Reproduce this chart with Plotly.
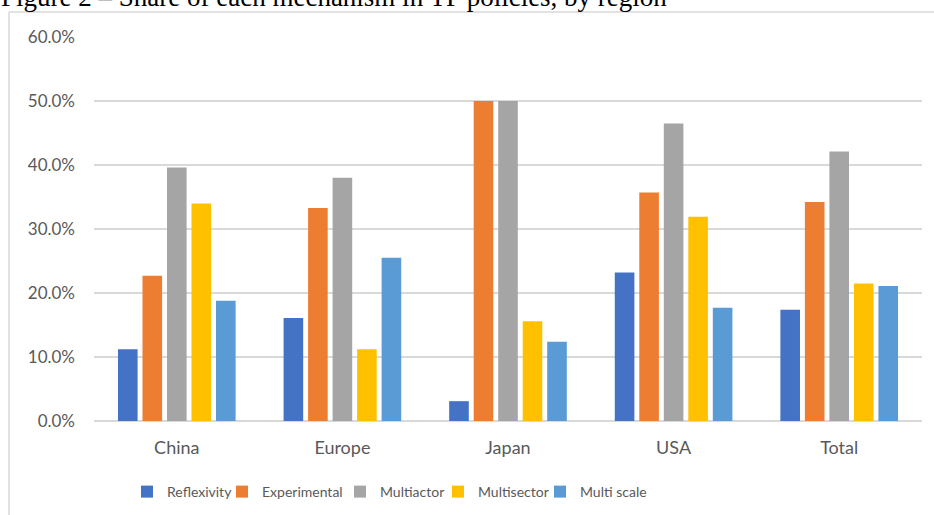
import plotly.graph_objects as go

# Share of each mechanism in TP policies, by region
regions = ["China", "Europe", "Japan", "USA", "Total"]
mechanisms = ["Reflexivity", "Experimental", "Multiactor", "Multisector", "Multi scale"]

reflexivity = [0.112, 0.161, 0.031, 0.232, 0.174]
experimental = [0.227, 0.333, 0.500, 0.357, 0.342]
multiactor = [0.396, 0.380, 0.500, 0.465, 0.421]
multisector = [0.340, 0.112, 0.156, 0.319, 0.215]
multiscale = [0.188, 0.255, 0.124, 0.177, 0.211]

series = [reflexivity, experimental, multiactor, multisector, multiscale]
colors = ["#4472C4", "#ED7D31", "#A5A5A5", "#FFC000", "#5B9BD5"]
# text width reserved for each legend entry (px)
legend_widths = [50, 73, 53, 57, 72]

W, H = 934, 515
L, R, T, B = 94, 12, 37, 94
PW, PH = W - L - R, H - T - B


def px_x(px):
    return (px - L) / PW


def px_y(py):
    return (H - B - py) / PH


fig = go.Figure()
for name, vals, col, lw in zip(mechanisms, series, colors, legend_widths):
    fig.add_trace(go.Bar(
        name=name, x=regions, y=vals,
        marker=dict(color=col, line=dict(width=0)),
        legendwidth=lw,
    ))

grid = "#D9D9D9"
txt = "#595959"

fig.update_layout(
    width=W, height=H,
    margin=dict(l=L, r=R, t=T, b=B, pad=0),
    paper_bgcolor="white", plot_bgcolor="white",
    barmode="group", bargap=0.26, bargroupgap=0.2,
    font=dict(family="Lato", color=txt),
    showlegend=True,
    legend=dict(
        orientation="h", xref="paper", x=px_x(127), xanchor="left",
        yref="container", y=1 - 492 / H, yanchor="middle",
        font=dict(family="Lato", size=14, color=txt),
        traceorder="normal",
    ),
    xaxis=dict(
        showgrid=False, showline=False, zeroline=False,
        tickfont=dict(size=18, color=txt),
        ticklabelstandoff=14, automargin=False,
    ),
    yaxis=dict(
        range=[0, 0.6], dtick=0.1, tickformat=".1%",
        showgrid=True, gridcolor=grid, gridwidth=1.5,
        zeroline=True, zerolinecolor=grid, zerolinewidth=1.5,
        showline=False,
        tickfont=dict(size=17, color=txt),
        ticklabelstandoff=18, automargin=False,
    ),
    annotations=[dict(
        text="Figure 2 \u2013 Share of each mechanism in TP policies, by region",
        xref="paper", yref="paper",
        x=px_x(-1), y=px_y(14), xanchor="left", yanchor="bottom",
        showarrow=False,
        font=dict(family="Liberation Serif", size=27, color="black"),
    )],
    shapes=[
        dict(type="line", xref="paper", yref="paper",
             x0=px_x(9), x1=px_x(9), y0=px_y(12), y1=px_y(520),
             line=dict(color=grid, width=1.5)),
        dict(type="line", xref="paper", yref="paper",
             x0=px_x(9), x1=px_x(940), y0=px_y(12), y1=px_y(12),
             line=dict(color=grid, width=1.5)),
    ],
)

fig.write_html("out.html")
